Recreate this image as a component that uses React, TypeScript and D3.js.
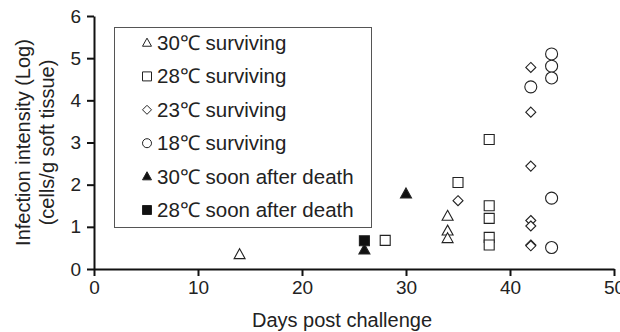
import React, { useEffect, useRef } from 'react';
import * as d3 from 'd3';

// days post challenge / log infection intensity
const tri30Days = [14, 34, 34, 34];
const tri30Vals = [0.34, 1.25, 0.9, 0.72];
const sq28Days = [28, 35, 38, 38, 38, 38, 38];
const sq28Vals = [0.68, 2.05, 3.07, 1.5, 1.2, 0.75, 0.57];
const dia23Days = [35, 42, 42, 42, 42, 42, 42, 42];
const dia23Vals = [1.62, 4.78, 3.72, 2.44, 1.15, 1.02, 0.57, 0.55];
const circ18Days = [42, 44, 44, 44, 44, 44];
const circ18Vals = [4.32, 5.1, 4.81, 4.53, 1.68, 0.51];
const tri30DeadDays = [26, 30];
const tri30DeadVals = [0.45, 1.78];
const sq28DeadDays = [26];
const sq28DeadVals = [0.67];

const legendLabels = [
  '30℃ surviving',
  '28℃ surviving',
  '23℃ surviving',
  '18℃ surviving',
  '30℃ soon after death',
  '28℃ soon after death',
];
const xTicks = [0, 10, 20, 30, 40, 50];
const yTicks = [0, 1, 2, 3, 4, 5, 6];

const FONT = '"Liberation Sans", Arial, Helvetica, sans-serif';

// shape path centred on 0,0 with overall size s (px)
const shapePath = (kind, s) => {
  const h = s / 2;
  if (kind === 'tri') {
    const ht = s * 0.9;
    return `M0,${-ht * 0.6}L${h},${ht * 0.4}L${-h},${ht * 0.4}Z`;
  }
  if (kind === 'sq') return `M${-h},${-h}H${h}V${h}H${-h}Z`;
  if (kind === 'dia') return `M0,${-h}L${h},0L0,${h}L${-h},0Z`;
  return d3.arc()({ innerRadius: 0, outerRadius: h, startAngle: 0, endAngle: Math.PI * 2 });
};

const series = [
  { days: tri30Days, vals: tri30Vals, kind: 'tri', fill: 'white', size: 11 },
  { days: sq28Days, vals: sq28Vals, kind: 'sq', fill: 'white', size: 10 },
  { days: dia23Days, vals: dia23Vals, kind: 'dia', fill: 'white', size: 10 },
  { days: circ18Days, vals: circ18Vals, kind: 'circ', fill: 'white', size: 12 },
  { days: tri30DeadDays, vals: tri30DeadVals, kind: 'tri', fill: '#111', size: 11 },
  { days: sq28DeadDays, vals: sq28DeadVals, kind: 'sq', fill: '#111', size: 10 },
];

export default function App() {
  const ref = useRef(null);

  useEffect(() => {
    const svg = d3.select(ref.current);
    svg.html('');

    const x = d3.scaleLinear().domain([0, 50]).range([94, 614]);
    const y = d3.scaleLinear().domain([0, 6]).range([269, 16]);

    // points
    series.forEach((s) => {
      svg.append('g')
        .selectAll('path')
        .data(s.days.map((d, i) => [d, s.vals[i]]))
        .enter()
        .append('path')
        .attr('transform', (d) => `translate(${x(d[0])},${y(d[1])})`)
        .attr('d', shapePath(s.kind, s.size))
        .attr('fill', s.fill)
        .attr('stroke', '#222')
        .attr('stroke-width', 1.1);
    });

    // axes
    const xa = svg.append('g')
      .attr('transform', `translate(0,${y(0)})`)
      .call(d3.axisBottom(x).tickValues(xTicks).tickFormat(d3.format('d'))
        .tickSize(7).tickSizeOuter(0).tickPadding(5));
    const ya = svg.append('g')
      .attr('transform', `translate(${x(0)},0)`)
      .call(d3.axisLeft(y).tickValues(yTicks).tickFormat(d3.format('d'))
        .tickSize(7).tickSizeOuter(0).tickPadding(6));
    [xa, ya].forEach((a) => {
      a.attr('font-family', FONT).attr('font-size', 19);
      a.selectAll('path, line').attr('stroke', '#111').attr('stroke-width', 2);
      a.selectAll('text').attr('fill', '#222');
    });

    // axis titles
    svg.append('text')
      .attr('x', 342).attr('y', 327)
      .attr('text-anchor', 'middle')
      .attr('font-family', FONT).attr('font-size', 20).attr('fill', '#222')
      .text('Days post challenge');
    const yl = svg.append('text')
      .attr('transform', `translate(0,${(y(0) + y(6)) / 2}) rotate(-90)`)
      .attr('text-anchor', 'middle')
      .attr('font-family', FONT).attr('font-size', 20).attr('fill', '#222');
    yl.append('tspan').attr('x', 0).attr('y', 30).text('Infection intensity (Log)');
    yl.append('tspan').attr('x', 0).attr('y', 54).text('(cells/g soft tissue)');

    // legend
    const lg = svg.append('g');
    lg.append('rect')
      .attr('x', 114.5).attr('y', 27.5).attr('width', 257).attr('height', 200)
      .attr('fill', 'white').attr('stroke', '#555').attr('stroke-width', 1);
    legendLabels.forEach((lab, i) => {
      const cy = 43 + i * 33.4;
      const s = series[i];
      lg.append('path')
        .attr('transform', `translate(147,${cy})`)
        .attr('d', shapePath(s.kind, 9))
        .attr('fill', s.fill)
        .attr('stroke', '#222')
        .attr('stroke-width', 1);
      lg.append('text')
        .attr('x', 157).attr('y', cy + 7)
        .attr('font-family', FONT).attr('font-size', 20.5).attr('fill', '#222')
        .text(lab);
    });
  }, []);

  return (
    <svg
      ref={ref}
      width={620}
      height={332}
      style={{ position: 'absolute', left: 0, top: 0, background: 'white' }}
    />
  );
}
